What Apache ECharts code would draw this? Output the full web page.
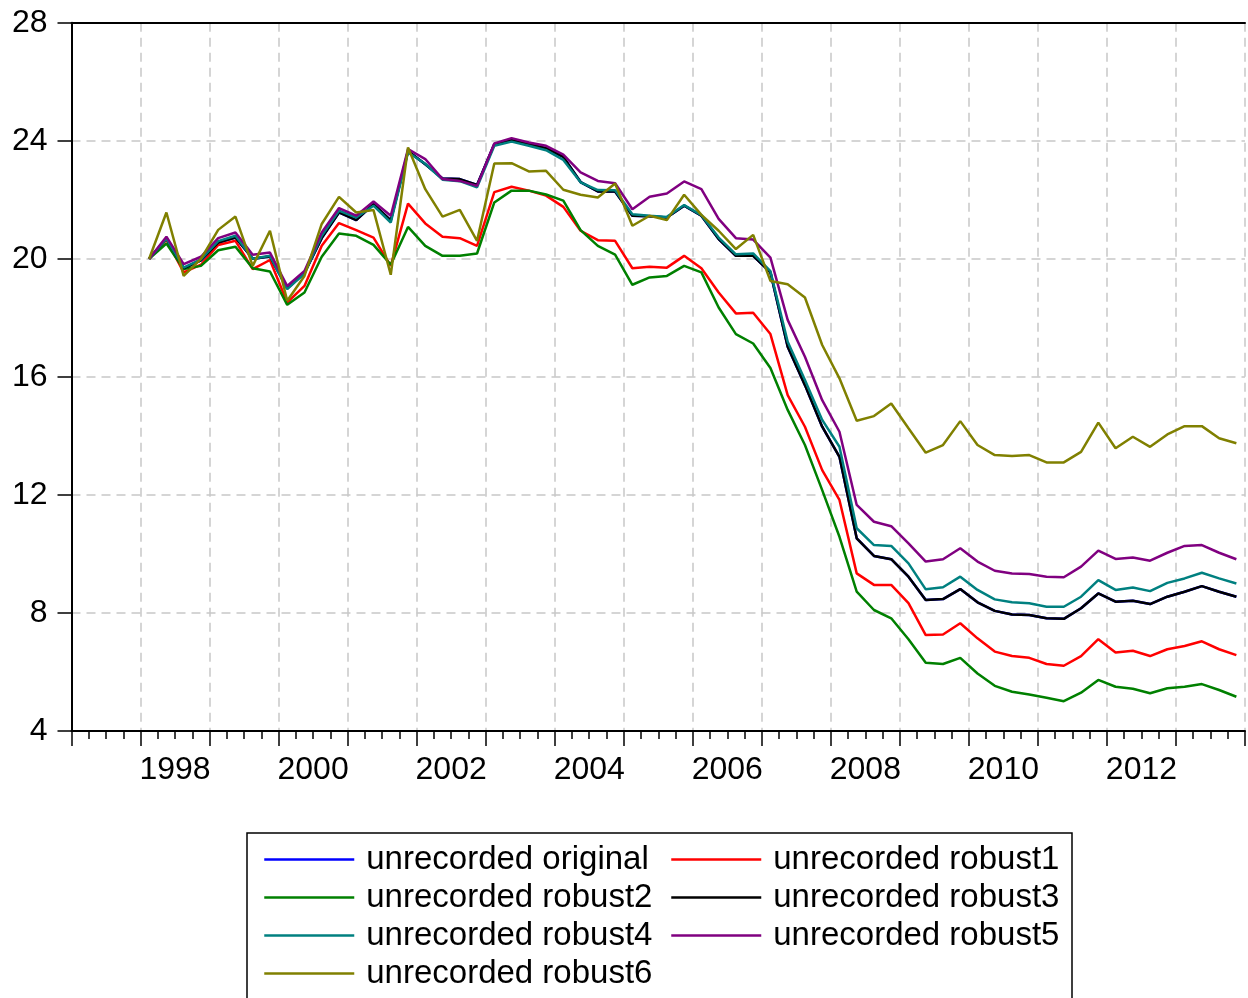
<!DOCTYPE html>
<html><head><meta charset="utf-8">
<script src="https://cdn.jsdelivr.net/npm/echarts@6/dist/echarts.min.js"></script>
<style>html,body{margin:0;padding:0;background:#fff}#c{width:1248px;height:998px}</style>
</head><body><div id="c"></div>
<script>
// ---- data ----
const startYear = 1998;          // first observation: 1998Q1
const quartersPerYear = 4;
const xTickLabels = [1998, 2000, 2002, 2004, 2006, 2008, 2010, 2012];
const yTickValues = [4, 8, 12, 16, 20, 24, 28];

const seriesNames = ['unrecorded original','unrecorded robust1','unrecorded robust2','unrecorded robust3','unrecorded robust4','unrecorded robust5','unrecorded robust6'];
const seriesColors = ['#0000FF','#FF0000','#008000','#000000','#008080','#800080','#808000'];

const unrecordedOriginal = [20.0,20.68,19.68,19.95,20.55,20.72,20.00,20.08,19.00,19.52,20.70,21.57,21.31,21.85,21.30,23.65,23.20,22.72,22.70,22.50,23.88,24.02,23.88,23.75,23.45,22.60,22.28,22.28,21.46,21.44,21.40,21.80,21.46,20.67,20.10,20.10,19.54,17.02,15.72,14.31,13.29,10.53,9.93,9.82,9.23,8.44,8.47,8.81,8.36,8.07,7.95,7.93,7.82,7.80,8.16,8.66,8.38,8.41,8.30,8.55,8.72,8.91,8.72,8.55];
const unrecordedRobust1 = [20.0,20.65,19.54,19.80,20.47,20.61,19.65,19.96,18.52,19.08,20.44,21.21,20.97,20.72,19.76,21.87,21.20,20.75,20.70,20.44,22.26,22.44,22.31,22.14,21.76,20.95,20.63,20.61,19.68,19.73,19.70,20.10,19.68,18.86,18.15,18.17,17.45,15.38,14.31,12.84,11.83,9.34,8.95,8.95,8.33,7.25,7.27,7.65,7.14,6.69,6.54,6.48,6.27,6.21,6.54,7.11,6.66,6.72,6.54,6.77,6.88,7.04,6.77,6.57];
const unrecordedRobust2 = [20.0,20.52,19.65,19.76,20.29,20.41,19.68,19.57,18.44,18.86,20.07,20.86,20.78,20.47,19.80,21.08,20.44,20.10,20.10,20.18,21.91,22.31,22.31,22.18,21.97,20.97,20.44,20.14,19.12,19.37,19.42,19.76,19.54,18.35,17.45,17.13,16.30,14.88,13.69,12.16,10.58,8.72,8.10,7.82,7.11,6.31,6.27,6.48,5.95,5.53,5.33,5.24,5.13,5.01,5.30,5.73,5.50,5.43,5.28,5.45,5.50,5.59,5.39,5.16];
const unrecordedRobust3 = [20.0,20.68,19.68,19.95,20.55,20.72,20.00,20.08,19.00,19.52,20.70,21.57,21.31,21.85,21.30,23.65,23.20,22.72,22.70,22.50,23.88,24.02,23.88,23.75,23.45,22.60,22.28,22.28,21.46,21.44,21.40,21.80,21.46,20.67,20.10,20.10,19.54,17.02,15.72,14.31,13.29,10.53,9.93,9.82,9.23,8.44,8.47,8.81,8.36,8.07,7.95,7.93,7.82,7.80,8.16,8.66,8.38,8.41,8.30,8.55,8.72,8.91,8.72,8.55];
const unrecordedRobust4 = [20.0,20.68,19.70,19.98,20.60,20.78,20.00,20.10,18.97,19.50,20.78,21.63,21.40,21.80,21.23,23.60,23.22,22.68,22.63,22.42,23.83,23.97,23.83,23.68,23.35,22.59,22.33,22.32,21.51,21.46,21.42,21.82,21.48,20.72,20.15,20.18,19.58,17.19,15.89,14.54,13.63,10.87,10.30,10.27,9.68,8.80,8.87,9.23,8.78,8.46,8.36,8.33,8.21,8.21,8.55,9.11,8.78,8.86,8.74,9.02,9.17,9.36,9.17,9.00];
const unrecordedRobust5 = [20.0,20.75,19.82,20.07,20.70,20.89,20.14,20.21,19.08,19.59,20.89,21.72,21.46,21.94,21.46,23.72,23.38,22.70,22.64,22.47,23.91,24.09,23.94,23.83,23.53,22.93,22.64,22.56,21.68,22.10,22.21,22.62,22.36,21.35,20.70,20.65,20.04,17.93,16.68,15.21,14.14,11.66,11.09,10.94,10.36,9.74,9.82,10.19,9.74,9.43,9.34,9.32,9.23,9.21,9.57,10.11,9.83,9.88,9.77,10.04,10.27,10.30,10.04,9.82];
const unrecordedRobust6 = [20.0,21.57,19.42,20.0,20.98,21.43,19.76,20.95,18.58,19.42,21.18,22.10,21.57,21.65,19.46,23.77,22.36,21.43,21.66,20.61,23.23,23.24,22.96,22.98,22.34,22.17,22.08,22.55,21.12,21.46,21.31,22.17,21.49,20.95,20.33,20.81,19.25,19.14,18.69,17.08,15.95,14.51,14.67,15.10,14.26,13.43,13.69,14.50,13.69,13.35,13.32,13.35,13.10,13.10,13.46,14.45,13.58,13.97,13.63,14.05,14.33,14.33,13.92,13.75];

const allValues = [unrecordedOriginal, unrecordedRobust1, unrecordedRobust2, unrecordedRobust3, unrecordedRobust4, unrecordedRobust5, unrecordedRobust6];

// ---- build ----
const FONT = '"Liberation Sans", Arial, sans-serif';
const toXY = vals => vals.map((v, i) => {
  const year = startYear + Math.floor(i / quartersPerYear);
  const q = i % quartersPerYear;               // 0..3
  return [year + (q + 0.5) / quartersPerYear, v]; // centre of the quarter
});
const gridLine = {color: '#c8c8c8', width: 1.5, type: [9, 6]};
const axisBlack = {color: '#000', width: 2};
const legendCommon = {
  orient: 'vertical', padding: 0, itemGap: 5, itemWidth: 90, itemHeight: 14,
  itemStyle: {opacity: 0},
  lineStyle: {width: 2.5},
  textStyle: {fontSize: 33, color: '#000', fontFamily: FONT, lineHeight: 33, padding: [0, 0, 0, 7]}
};

const chart = echarts.init(document.getElementById('c'), null, {renderer: 'canvas'});
chart.setOption({
  animation: false,
  backgroundColor: '#fff',
  grid: {left: 71.5, right: 0, top: 22.7, bottom: 267, containLabel: false},
  xAxis: [
    {type: 'value', min: 1997, max: 2014, interval: 1, position: 'bottom',
     axisLine: {show: true, onZero: false, lineStyle: axisBlack},
     axisTick: {show: true, inside: false, length: 15, lineStyle: {color: '#000', width: 1.5}},
     minorTick: {show: true, splitNumber: 4, length: 8, lineStyle: {color: '#000', width: 1.5}},
     splitLine: {show: true, lineStyle: gridLine},
     axisLabel: {show: false}},
    {type: 'value', min: 1996.5, max: 2013.5, interval: 0.5, position: 'bottom',
     axisLine: {show: false, onZero: false}, axisTick: {show: false}, splitLine: {show: false},
     axisLabel: {show: true, margin: 23, fontSize: 32, color: '#000', fontFamily: FONT,
       formatter: v => xTickLabels.includes(v) ? String(v) : ''}},
    {type: 'value', min: 1997, max: 2014, position: 'top',
     axisLine: {show: true, onZero: false, lineStyle: axisBlack},
     axisTick: {show: false}, splitLine: {show: false}, axisLabel: {show: false}}
  ],
  yAxis: {type: 'value', min: yTickValues[0], max: yTickValues[yTickValues.length - 1], interval: 4,
    axisLine: {show: true, onZero: false, lineStyle: axisBlack},
    axisTick: {show: true, length: 14, lineStyle: {color: '#000', width: 1.5}},
    axisLabel: {margin: 24, fontSize: 32, color: '#000', fontFamily: FONT},
    splitLine: {show: true, lineStyle: gridLine}},
  graphic: [{type: 'rect', shape: {x: 247, y: 833, width: 825, height: 200},
    style: {fill: '#fff', stroke: '#000', lineWidth: 1.5}, z: -1, silent: true}],
  legend: [
    Object.assign({left: 263, top: 843, data: [seriesNames[0], seriesNames[2], seriesNames[4], seriesNames[6]]}, legendCommon),
    Object.assign({left: 670, top: 843, data: [seriesNames[1], seriesNames[3], seriesNames[5]]}, legendCommon)
  ],
  series: allValues.map((vals, k) => ({
    name: seriesNames[k], type: 'line', xAxisIndex: 0, data: toXY(vals),
    symbol: 'none', showSymbol: false, color: seriesColors[k],
    lineStyle: {color: seriesColors[k], width: 2.5}, z: 2 + k
  }))
});
</script></body></html>
